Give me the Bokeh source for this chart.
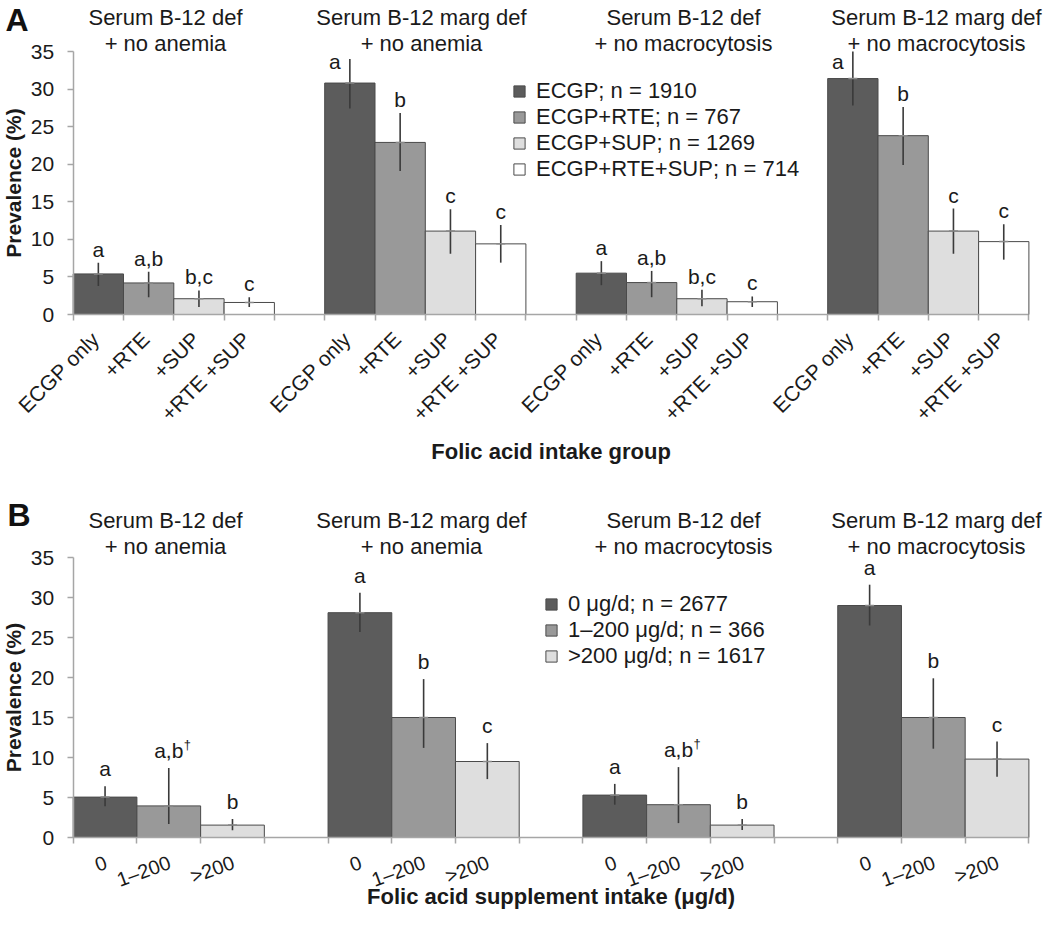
import math
from bokeh.plotting import figure
from bokeh.models import (Range1d, FixedTicker, ColumnDataSource, LabelSet, Label,
                          Legend, LegendItem, LinearAxis)
from bokeh.layouts import column
from bokeh.core.properties import value
from bokeh.embed import file_html
from bokeh.resources import INLINE

# ---------------- data ----------------
titles = [("Serum B-12 def", "+ no anemia"),
          ("Serum B-12 marg def", "+ no anemia"),
          ("Serum B-12 def", "+ no macrocytosis"),
          ("Serum B-12 marg def", "+ no macrocytosis")]

# Panel A
a_names = ["ECGP; n = 1910", "ECGP+RTE; n = 767", "ECGP+SUP; n = 1269", "ECGP+RTE+SUP; n = 714"]
a_ticks = ["ECGP only", "+RTE", "+SUP", "+RTE +SUP"]
a_ecgp = [5.4, 30.8, 5.5, 31.4]
a_rte = [4.2, 22.9, 4.25, 23.8]
a_sup = [2.1, 11.1, 2.1, 11.1]
a_rtesup = [1.6, 9.4, 1.7, 9.7]
a_ecgp_lo = [3.8, 27.4, 3.9, 27.8]
a_ecgp_hi = [6.9, 34.0, 7.1, 35.0]
a_rte_lo = [2.3, 19.1, 2.3, 19.9]
a_rte_hi = [5.7, 26.8, 5.8, 27.6]
a_sup_lo = [1.0, 8.1, 1.1, 8.1]
a_sup_hi = [3.2, 14.0, 3.3, 14.1]
a_rtesup_lo = [1.0, 6.9, 1.0, 7.3]
a_rtesup_hi = [2.3, 11.9, 2.4, 12.0]
a_let_ecgp = ["a", "a", "a", "a"]
a_let_rte = ["a,b", "b", "a,b", "b"]
a_let_sup = ["b,c", "c", "b,c", "c"]
a_let_rtesup = ["c", "c", "c", "c"]

# Panel B
b_names = ["0 \u03bcg/d; n = 2677", "1\u2013200 \u03bcg/d; n = 366", ">200 \u03bcg/d; n = 1617"]
b_ticks = ["0", "1\u2013200", ">200"]
b_zero = [5.05, 28.1, 5.3, 29.0]
b_low = [3.95, 15.0, 4.1, 15.0]
b_high = [1.55, 9.5, 1.55, 9.8]
b_zero_lo = [3.9, 25.7, 4.1, 26.5]
b_zero_hi = [6.4, 30.6, 6.7, 31.6]
b_low_lo = [1.7, 11.2, 1.8, 11.1]
b_low_hi = [8.7, 19.8, 8.8, 19.9]
b_high_lo = [0.9, 7.3, 0.95, 7.6]
b_high_hi = [2.3, 11.8, 2.3, 12.0]
b_let_zero = ["a", "a", "a", "a"]
b_let_low = ["a,b\u2020", "b", "a,b\u2020", "b"]
b_let_high = ["b", "c", "b", "c"]

# ---------------- style / layout ----------------
FONT = "Liberation Sans"
W = 1050
X_LEFT, X_RIGHT = 72.7, 1028.4      # plot-area edges (px)
AXIS_C = "#a6a6a6"
TXT_C = "#1a1a1a"
FILLS = ["#5c5c5c", "#999999", "#dedede", "#ffffff"]
TITLE_PX = [165, 421, 683, 936]      # title centres (px)


def panel(H, zero_px, top_px, group_size, vals, los, his, letters, names, ticks,
          tick_angle, tick_off, tick_size, letter_gap, legend_px, tag, tag_px,
          xtitle, xtitle_base, title_base1, title_base2):
    ncat = 4 * (group_size + 1) - 1
    cw = (X_RIGHT - X_LEFT) / ncat
    ppu = (zero_px - top_px) / 35.0
    xr = Range1d(-X_LEFT / cw, (W - X_LEFT) / cw)
    yr = Range1d(-(H - zero_px) / ppu, 35 + top_px / ppu)
    p = figure(width=W, height=H, x_range=xr, y_range=yr,
               x_axis_type=None, y_axis_type=None,
               output_backend="svg", toolbar_location=None, title=None,
               min_border=0, min_border_left=0, min_border_right=0,
               min_border_top=0, min_border_bottom=0)
    p.xgrid.visible = False
    p.ygrid.visible = False
    p.outline_line_color = None
    p.background_fill_color = "white"
    p.border_fill_color = "white"

    yax = LinearAxis(fixed_location=0, bounds=(0, 35),
                     ticker=FixedTicker(ticks=list(range(0, 36, 5))))
    xax = LinearAxis(fixed_location=0, bounds=(0, ncat),
                     ticker=FixedTicker(ticks=[], minor_ticks=list(range(ncat + 1))))
    for ax in (xax, yax):
        ax.axis_line_color = AXIS_C
        ax.axis_line_width = 1.5
        ax.major_tick_line_color = AXIS_C
        ax.major_tick_line_width = 1.5
        ax.major_tick_in = 0
        ax.major_tick_out = 6
        ax.major_label_text_font = FONT
        ax.major_label_text_font_size = "21px"
        ax.major_label_text_color = TXT_C
    yax.minor_tick_line_color = None
    yax.major_label_standoff = 13
    xax.minor_tick_line_color = AXIS_C
    xax.minor_tick_line_width = 1.5
    xax.minor_tick_in = 0
    xax.minor_tick_out = 6
    p.add_layout(yax, "left")
    p.add_layout(xax, "below")

    items = []
    tick_x, tick_t = [], []
    for s in range(group_size):
        xs = [g * (group_size + 1) + s + 0.5 for g in range(4)]
        tick_x += xs
        tick_t += [ticks[s]] * 4
        main = [t.replace("\u2020", "") for t in letters[s]]
        top_rule = [h > 33 for h in his[s]]
        src = ColumnDataSource(dict(
            x=xs, top=vals[s], lo=los[s], hi=his[s], let=main,
            ly=[35 if t else h for t, h in zip(top_rule, his[s])],
            ldy=[-17 if t else letter_gap for t in top_rule],
            ldx=[-15 if t else 0 for t in top_rule]))
        r = p.vbar(x="x", top="top", bottom=0, width=1, source=src,
                   fill_color=FILLS[s], line_color="#4a4a4a", line_width=1)
        p.segment(x0="x", y0="lo", x1="x", y1="hi", source=src,
                  line_color="#3a3a3a", line_width=1.6)
        p.scatter(x="x", y="top", source=src, marker="dash", size=9,
                  line_color="#8a8a8a", line_width=1.5)
        p.add_layout(LabelSet(x="x", y="ly", text="let", source=src,
                              x_offset="ldx", y_offset="ldy",
                              text_align="center", text_baseline="alphabetic",
                              text_font=value(FONT), text_font_size="21px",
                              text_color=TXT_C))
        dx = [x for x, t in zip(xs, letters[s]) if "\u2020" in t]
        if dx:
            dsrc = ColumnDataSource(dict(
                x=dx, y=[h for h, t in zip(his[s], letters[s]) if "\u2020" in t],
                t=["\u2020"] * len(dx)))
            p.add_layout(LabelSet(x="x", y="y", text="t", source=dsrc,
                                  x_offset=15, y_offset=letter_gap + 9,
                                  text_align="left", text_baseline="alphabetic",
                                  text_font=value(FONT), text_font_size="13px",
                                  text_color=TXT_C))
        items.append(LegendItem(label=names[s], renderers=[r]))

    # category tick labels (rotated, right end at the category centre)
    tsrc = ColumnDataSource(dict(x=tick_x, y=[0] * len(tick_x), t=tick_t))
    p.add_layout(LabelSet(x="x", y="y", text="t", source=tsrc, angle=tick_angle,
                          x_offset=tick_off[0], y_offset=tick_off[1],
                          text_align="right", text_baseline="middle",
                          text_font=value(FONT), text_font_size=tick_size,
                          text_color=TXT_C))

    leg = Legend(items=items, location=legend_px, orientation="vertical",
                 label_text_font=FONT, label_text_font_size="22px",
                 label_text_color=TXT_C, glyph_width=14, glyph_height=14,
                 label_standoff=10, spacing=0, padding=0, margin=0,
                 label_height=26, border_line_alpha=0, background_fill_alpha=0)
    p.add_layout(leg)

    # group titles
    for (l1, l2), px in zip(titles, TITLE_PX):
        xd = (px - X_LEFT) / cw
        for txt, base in ((l1, title_base1), (l2, title_base2)):
            p.add_layout(Label(x=xd, y=35, y_offset=top_px - base, text=txt,
                               text_align="center", text_baseline="alphabetic",
                               text_font=FONT, text_font_size="22px", text_color=TXT_C))
    # panel tag
    p.add_layout(Label(x=xr.start, y=35, x_offset=tag_px[0], y_offset=top_px - tag_px[1],
                       text=tag, text_align="left", text_baseline="alphabetic",
                       text_font=FONT, text_font_style="bold", text_font_size="32px",
                       text_color="#111111"))
    # y axis title
    p.add_layout(Label(x=xr.start, y=17.5, x_offset=1, text="Prevalence (%)",
                       angle=math.pi / 2, text_align="center", text_baseline="top",
                       text_font=FONT, text_font_style="bold", text_font_size="21px",
                       text_color=TXT_C))
    # x axis title
    p.add_layout(Label(x=ncat / 2, y=0, y_offset=zero_px - xtitle_base, text=xtitle,
                       text_align="center", text_baseline="alphabetic", text_font=FONT,
                       text_font_style="bold", text_font_size="22px", text_color=TXT_C))
    return p


pA = panel(470, 314, 51, 4,
           [a_ecgp, a_rte, a_sup, a_rtesup],
           [a_ecgp_lo, a_rte_lo, a_sup_lo, a_rtesup_lo],
           [a_ecgp_hi, a_rte_hi, a_sup_hi, a_rtesup_hi],
           [a_let_ecgp, a_let_rte, a_let_sup, a_let_rtesup],
           a_names, a_ticks, math.pi / 4, (-3, -21), "21px", 6, (512, 288), "A", (5, 19),
           "Folic acid intake group", 451, 17, 43)

pB = panel(456, 367, 87, 3,
           [b_zero, b_low, b_high],
           [b_zero_lo, b_low_lo, b_high_lo],
           [b_zero_hi, b_low_hi, b_high_hi],
           [b_let_zero, b_let_low, b_let_high],
           b_names, b_ticks, math.radians(20), (1, -24), "20px", 10, (544, 257), "B", (7, 44),
           "Folic acid supplement intake (\u03bcg/d)", 426, 50, 76)

layout = column(pA, pB, spacing=0)
open("out.html", "w").write(file_html(layout, INLINE))
